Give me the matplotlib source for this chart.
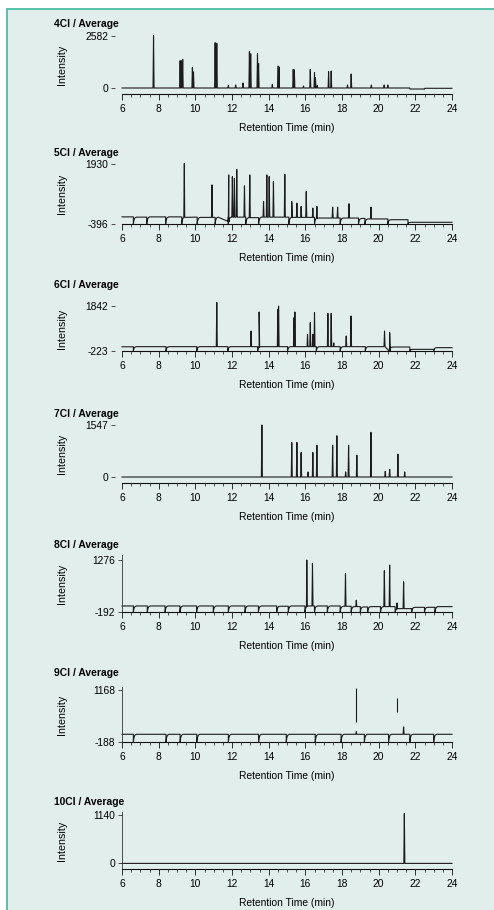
import numpy as np
import matplotlib
matplotlib.use("Agg")
import matplotlib.pyplot as plt
from matplotlib.ticker import MultipleLocator, FixedLocator, FixedFormatter
from matplotlib.patches import Rectangle

plt.rcParams['font.family'] = ['Liberation Sans', 'DejaVu Sans']

# ---------------- data ----------------
titles = ["4Cl / Average", "5Cl / Average", "6Cl / Average", "7Cl / Average",
          "8Cl / Average", "9Cl / Average", "10Cl / Average"]
ytick_values = [[0, 2582], [-396, 1930], [-223, 1842], [0, 1547],
                [-192, 1276], [-188, 1168], [0, 1140]]
ytick_labels = [["0", "2582"], ["-396", "1930"], ["-223", "1842"], ["0", "1547"],
                ["-192", "1276"], ["-188", "1168"], ["0", "1140"]]
xticks_major = [6, 8, 10, 12, 14, 16, 18, 20, 22, 24]

# peaks (retention time, intensity)
peaks_4cl_rt = [7.72, 9.17, 9.24, 9.31, 9.84, 9.9, 11.08, 11.17, 11.8, 12.2, 12.6, 12.95, 13.02,
                13.39, 13.45, 14.2, 14.52, 14.56, 15.34, 15.4, 15.9, 16.27, 16.5, 16.55, 16.65,
                17.27, 17.41, 18.3, 18.5, 19.6, 20.3, 20.5]
peaks_4cl_h = [2600, 1356, 1350, 1425, 1008, 800, 2250, 2220, 120, 150, 250, 1800, 1700,
               1720, 1226, 180, 1092, 1050, 928, 900, 100, 928, 760, 520, 120,
               810, 843, 150, 695, 150, 150, 150]

peaks_5cl_rt = [9.40, 10.91, 11.82, 12.02, 12.13, 12.26, 12.68, 12.97, 13.72, 13.90, 14.03, 14.26,
                14.88, 15.26, 15.54, 15.77, 16.05, 16.41, 16.63, 17.49, 17.76, 18.38, 19.58]
peaks_5cl_h = [1950, 1120, 1506, 1442, 1377, 1724, 1082, 1506, 478, 1506, 1442, 1249,
               1531, 478, 414, 285, 863, 221, 285, 259, 259, 388, 259]

peaks_6cl_rt = [11.17, 13.04, 13.48, 14.50, 14.54, 15.38, 15.43, 16.12, 16.27, 16.41, 16.50,
                17.23, 17.41, 17.55, 18.23, 18.49, 20.32, 20.60]
peaks_6cl_h = [2000, 695, 1567, 1700, 1842, 1307, 1567, 542, 1077, 542, 1536,
               1506, 1506, 150, 465, 1383, 695, 618]

peaks_7cl_rt = [13.63, 15.26, 15.54, 15.77, 16.15, 16.41, 16.63, 17.49, 17.72, 18.20, 18.36,
                18.81, 19.58, 20.36, 20.60, 21.05, 21.42]
peaks_7cl_h = [1547, 1028, 1028, 729, 150, 729, 948, 948, 1228, 150, 948,
               649, 1327, 170, 230, 679, 150]

peaks_8cl_rt = [16.08, 16.39, 18.19, 18.78, 20.31, 20.60, 21.00, 21.36]
peaks_8cl_h = [1276, 1181, 897, 140, 972, 1134, 60, 660]

peaks_9cl_rt = [18.78, 21.36]
peaks_9cl_h = [80, 206]
# detached vertical segments in 9Cl (rt, low, high)
seg_9cl_rt = [18.78, 21.00]
seg_9cl_lo = [337, 600]
seg_9cl_hi = [1212, 967]

peaks_10cl_rt = [21.40]
peaks_10cl_h = [1180]

# baseline: segment boundaries, level per segment, dip level at boundaries
bounds_4cl = [6, 21.7, 22.5, 24]
levels_4cl = [0, -50, -15]
bounds_5cl = [6, 6.62, 7.35, 8.38, 9.26, 10.1, 11.08, 11.8, 12.75, 13.45, 15.1, 16.5, 17.9,
              18.9, 19.25, 20.5, 21.6, 24]
levels_5cl = [-120, -130, -120, -120, -130, -140, -130, -130, -150, -130, -140, -165, -165,
              -180, -200, -230, -330]
bounds_6cl = [6, 6.62, 8.4, 10.08, 11.77, 13.4, 15.03, 16.6, 17.9, 19.27, 20.6, 21.7, 23.0, 24]
levels_6cl = [-30, -24, -24, -24, -24, -24, -24, -24, -24, -24, -40, -147, -70]
bounds_7cl = [6, 24]
levels_7cl = [0]
bounds_8cl = [6, 6.62, 7.38, 8.35, 9.16, 10.07, 10.98, 11.8, 12.71, 13.44, 14.44, 15.07, 15.98,
              16.5, 17.2, 17.9, 18.5, 19.0, 19.4, 20.1, 20.9, 21.8, 22.5, 23.07, 24]
levels_8cl = [-22, -22, -22, -22, -22, -22, -22, -22, -22, -22, -30, -22, -22,
              -22, -22, -30, -40, -50, -40, -40, -97, -60, -60, -40]
bounds_9cl = [6, 6.62, 8.4, 9.17, 10.08, 11.8, 13.45, 14.96, 16.54, 17.95, 19.22, 20.54, 21.7,
              23.0, 24]
levels_9cl = [13, 13, 13, 13, 13, 13, 13, 13, 13, 13, 13, 13, 13, 13]
bounds_10cl = [6, 24]
levels_10cl = [-10]

dips = [None, -396, -223, None, -192, -188, None]

all_peaks_rt = [peaks_4cl_rt, peaks_5cl_rt, peaks_6cl_rt, peaks_7cl_rt, peaks_8cl_rt,
                peaks_9cl_rt, peaks_10cl_rt]
all_peaks_h = [peaks_4cl_h, peaks_5cl_h, peaks_6cl_h, peaks_7cl_h, peaks_8cl_h,
               peaks_9cl_h, peaks_10cl_h]
all_bounds = [bounds_4cl, bounds_5cl, bounds_6cl, bounds_7cl, bounds_8cl, bounds_9cl, bounds_10cl]
all_levels = [levels_4cl, levels_5cl, levels_6cl, levels_7cl, levels_8cl, levels_9cl, levels_10cl]

# ---------------- layout (pixels) ----------------
W, H = 494, 910
ax_left, ax_right = 122, 452
top_px = [36, 164, 306, 425, 555, 687, 812]
bot_px = [94, 224, 351, 483, 612, 742, 869]
title_y = [24, 153, 285, 414, 545, 673, 802]
ylims = [(-298, 2582), (-396, 1930), (-223, 1842), (-178, 1547), (-192, 1417),
         (-188, 1246), (-143, 1211)]
show_left = [False, False, False, False, True, True, True]

BG = '#e2eeec'
TEAL = '#47bfa3'
LINE = '#1c1c1c'
FS = 7.4


def build_trace(bounds, levels, dip, prt, ph):
    xs, ys = [], []
    for i in range(len(levels)):
        b0, b1, L = bounds[i], bounds[i + 1], levels[i]
        if dip is not None and i > 0:
            d = dip
            xs += [b0, b0 + 0.03, b0 + 0.08, b0 + 0.16]
            ys += [d, d + (L - d) * 0.55, d + (L - d) * 0.88, L]
        else:
            xs += [b0 + 0.001]
            ys += [L]
        xs += [b1 - 0.001]
        ys += [L]
    xs = np.array(xs)
    ys = np.array(ys)
    px, py = [], []
    for rt, h in zip(prt, ph):
        base = np.interp(rt, xs, ys)
        px += [rt - 0.028, rt, rt + 0.028]
        py += [base, h, base]
    X = np.concatenate([xs, px])
    Y = np.concatenate([ys, py])
    order = np.argsort(X, kind='stable')
    return X[order], Y[order]


fig = plt.figure(figsize=(W / 100, H / 100), dpi=100)
fig.patch.set_facecolor('white')
fig.patches.append(Rectangle((7 / W, -0.05), 1.2, (H - 9) / H + 0.05, transform=fig.transFigure,
                             facecolor=BG, edgecolor=TEAL, linewidth=1.3, zorder=-10))

for k in range(7):
    t, b = top_px[k], bot_px[k]
    ax = fig.add_axes([ax_left / W, 1 - b / H, (ax_right - ax_left) / W, (b - t) / H])
    ax.set_facecolor('none')
    X, Y = build_trace(all_bounds[k], all_levels[k], dips[k], all_peaks_rt[k], all_peaks_h[k])
    ax.plot(X, Y, color=LINE, lw=0.8, clip_on=False)
    if k == 5:
        ax.vlines(seg_9cl_rt, seg_9cl_lo, seg_9cl_hi, color=LINE, lw=0.8)
    ax.set_xlim(6, 24)
    ax.set_ylim(*ylims[k])
    for s in ['top', 'right']:
        ax.spines[s].set_visible(False)
    ax.spines['bottom'].set_linewidth(0.8)
    ax.spines['bottom'].set_color('#111111')
    if show_left[k]:
        ax.spines['left'].set_linewidth(0.6)
        ax.spines['left'].set_color('#333333')
    else:
        ax.spines['left'].set_visible(False)
        ax.spines['left'].set_position(('outward', 5))
    ax.xaxis.set_major_locator(FixedLocator(xticks_major))
    ax.xaxis.set_minor_locator(MultipleLocator(0.5))
    ax.tick_params(axis='x', which='major', length=4.3, width=0.6, pad=3.0, labelsize=FS,
                   direction='out', color='#111111')
    ax.tick_params(axis='x', which='minor', length=2.0, width=0.5, direction='out', color='#111111')
    ax.yaxis.set_major_locator(FixedLocator(ytick_values[k]))
    ax.yaxis.set_major_formatter(FixedFormatter(ytick_labels[k]))
    ax.tick_params(axis='y', which='major', length=3.0, width=0.6, pad=2.0, labelsize=FS,
                   direction='out', color='#333333')
    ax.set_xlabel("Retention Time (min)", fontsize=FS)
    ax.xaxis.set_label_coords(0.5, -29 / (b - t))
    fig.text(54 / W, 1 - title_y[k] / H, titles[k], fontsize=FS, fontweight='bold',
             ha='left', va='center')
    fig.text(62 / W, 1 - ((t + b) / 2) / H, "Intensity", fontsize=FS + 0.3, rotation=90,
             ha='center', va='center')

fig.savefig("out.png", dpi=100, facecolor=fig.get_facecolor())
